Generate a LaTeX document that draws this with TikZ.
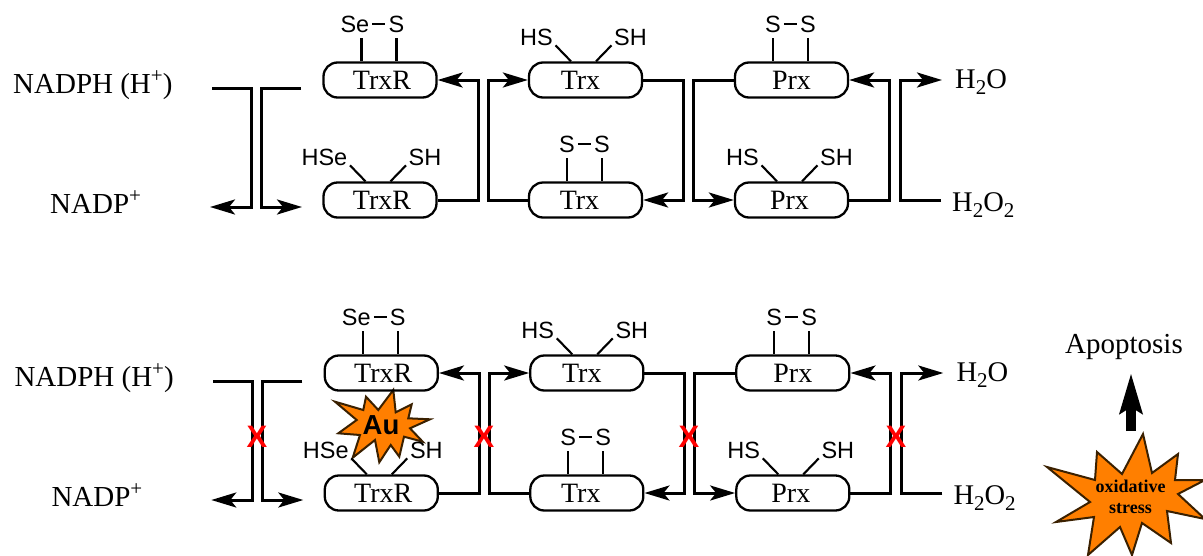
\documentclass[tikz,border=0pt]{standalone}
\usepackage{fontspec}
\setmainfont{Liberation Serif}
\setsansfont{Liberation Sans}
\usetikzlibrary{arrows.meta,calc}
\definecolor{starfill}{HTML}{FF7F00}
\definecolor{starline}{HTML}{3A2000}
\newcommand\bigfont{\fontsize{29}{30}\selectfont}
\newcommand\enzfont{\fontsize{28}{30}\selectfont}
\newcommand\chemfont{\fontsize{23.5}{26}\selectfont\sffamily}
\newcommand\psup{\raisebox{11pt}{\fontsize{21}{21}\selectfont+}}
\newcommand\psub{\raisebox{-6pt}{\fontsize{21}{21}\selectfont 2}}
\tikzset{
  x=1pt,y=-1pt,
  enzyme/.style={draw,line width=2.3pt,rounded corners=14pt,minimum width=113pt,minimum height=35pt,inner sep=0pt,font=\enzfont},
  wire/.style={draw,line width=3pt,line join=miter},
  tipped/.style={-{Stealth[length=25pt,width=15pt,inset=6pt]}},
  bond/.style={line width=2.1pt},
  chem/.style={inner sep=0pt,font=\chemfont,anchor=base},
  label/.style={inner sep=0pt,font=\bigfont,anchor=base west},
  blocker/.style={inner sep=0pt,text=red,font=\fontsize{31}{31}\selectfont\sffamily\bfseries},
  starshape/.style={draw=starline,fill=starfill,line width=2pt,line join=miter},
}
% enzyme with a disulfide (or Se-S) bridge on top
\newcommand\Bridge[5]{% name,x,y,text,left label
  \node[enzyme] (#1) at (#2,#3) {#4};
  \coordinate (#1-l) at ($(#1.north)+(-18.5,-23)$);
  \coordinate (#1-r) at ($(#1.north)+(16.5,-23)$);
  \node[chem,anchor=base east] (#1-la) at ($(#1-r)+(-27,-5.5)$) {#5};
  \node[chem] (#1-ra) at ($(#1-r)+(0,-5.5)$) {S};
  \draw[bond] (#1-l) -- (#1-l |- #1.north);
  \draw[bond] (#1-r) -- (#1-r |- #1.north);
  \draw[bond] ($(#1-ra.base west)+(-16,-8.5)$) -- ($(#1-ra.base west)+(-3,-8.5)$);
}
% enzyme with two free thiols on top
\newcommand\Thiol[5]{% name,x,y,text,left label
  \node[enzyme] (#1) at (#2,#3) {#4};
  \coordinate (#1-l) at ($(#1.north)+(-30,-16)$);
  \coordinate (#1-r) at ($(#1.north)+(26,-16)$);
  \node[chem,anchor=base east] (#1-la) at ($(#1-l)+(-2.5,0)$) {#5};
  \node[chem,anchor=base west] (#1-ra) at ($(#1-r)+(2.5,0)$) {SH};
  \draw[bond] (#1-l) -- ($(#1.north)+(-14.5,0)$);
  \draw[bond] (#1-r) -- ($(#1.north)+(10.5,0)$);
}
\newcommand\Panel{%
  \Bridge{r1}{380}{80}{\hspace*{4pt}TrxR}{Se}
  \Thiol{r2}{380}{200}{\hspace*{4pt}TrxR}{HSe}
  \Thiol{t1}{585.5}{80}{\hspace*{-10pt}Trx}{HS}
  \Bridge{t2}{585.5}{200}{\hspace*{-12pt}Trx}{S}
  \Bridge{p1}{791.5}{80}{Prx}{S}
  \Thiol{p2}{791.5}{200}{\hspace*{-4pt}Prx}{HS}
  \node[label] (nadph) at (13,93.5) {NADPH (H\psup)};
  \node[label] (nadp) at (50,213) {NADP\psup};
  \node[label,font=\fontsize{28.5}{30}\selectfont] (water) at (955,88.7) {H\psub O};
  \node[label,font=\fontsize{28.5}{30}\selectfont] (perox) at (952,211) {H\psub O\psub};
  \coordinate (a1) at (212,88);
  \coordinate (a2) at (251,148);
  \coordinate (a3) at (210,207);
  \coordinate (b1) at (301,88);
  \coordinate (b2) at (261,148);
  \coordinate (b3) at (302,207);
  \coordinate (c) at (478,140);
  \coordinate (d) at (488,140);
  \coordinate (e) at (683,140);
  \coordinate (f) at (693,140);
  \coordinate (g) at (889,140);
  \coordinate (h) at (900,140);
  \coordinate (i1) at (941,200);
  \coordinate (i2) at (942,80);
  \draw[wire,tipped] (a1) -| (a2) |- (a3);
  \draw[wire,tipped] (b1) -| (b2) |- (b3);
  \draw[wire,tipped] (r2.east) -| (c) |- (r1.east);
  \draw[wire,tipped] (t2.west) -| (d) |- (t1.west);
  \draw[wire,tipped] (t1.east) -| (e) |- (t2.east);
  \draw[wire,tipped] (p1.west) -| (f) |- (p2.west);
  \draw[wire,tipped] (p2.east) -| (g) |- (p1.east);
  \draw[wire,tipped] (i1) -| (h) |- (i2);
}
\begin{document}
\begin{tikzpicture}
\useasboundingbox (0,0) rectangle (1203,555);
\begin{scope}[name prefix=up-]
  \Panel
\end{scope}
% Au burst
\draw[starshape] (393.3,390) -- (395.7,412.3) -- (411.7,404.3) -- (408.3,418.3) -- (430,419.3) -- (410,428.3) -- (422.7,441.7) -- (404,436.7) -- (399.3,456.7) -- (390.7,445) -- (379.3,462.3) -- (375,440) -- (352.7,457.7) -- (360,435) -- (338.3,433.3) -- (356.7,420) -- (335,401.7) -- (363.3,410) -- (366,396.7) -- (378.3,410) -- cycle;
\node[inner sep=0pt,font=\fontsize{27.5}{28}\selectfont\sffamily\bfseries] (au) at (381,425.5) {Au};
\begin{scope}[shift={(1.3,293)},name prefix=low-]
  \Panel
\end{scope}
\foreach \n/\xx in {x1/257,x2/484,x3/689,x4/896}
  \node[blocker] (\n) at (\xx,437) {X};
\node[label] (apop) at (1065,353) {Apoptosis};
\coordinate (up1) at (1131,431);
\coordinate (up2) at (1131,373);
\draw[line width=10pt,-{Stealth[length=40pt,width=22pt,inset=6pt]}] (up1) -- (up2);
% oxidative stress burst
\draw[starshape] (1143,434) -- (1152,473) -- (1178,454) -- (1175,480) -- (1205,480) -- (1178,494) -- (1205,519) -- (1167,511) -- (1171,543) -- (1142,523) -- (1132,555) -- (1120,527) -- (1088,555) -- (1094,517) -- (1056,522) -- (1090,502) -- (1047,467) -- (1095,480) -- (1097,452) -- (1122,474) -- cycle;
\node[inner sep=0pt,align=center,anchor=base,font=\fontsize{18}{20.5}\selectfont\bfseries] (ox) at (1130.5,513) {oxidative\\stress};
\end{tikzpicture}
\end{document}
